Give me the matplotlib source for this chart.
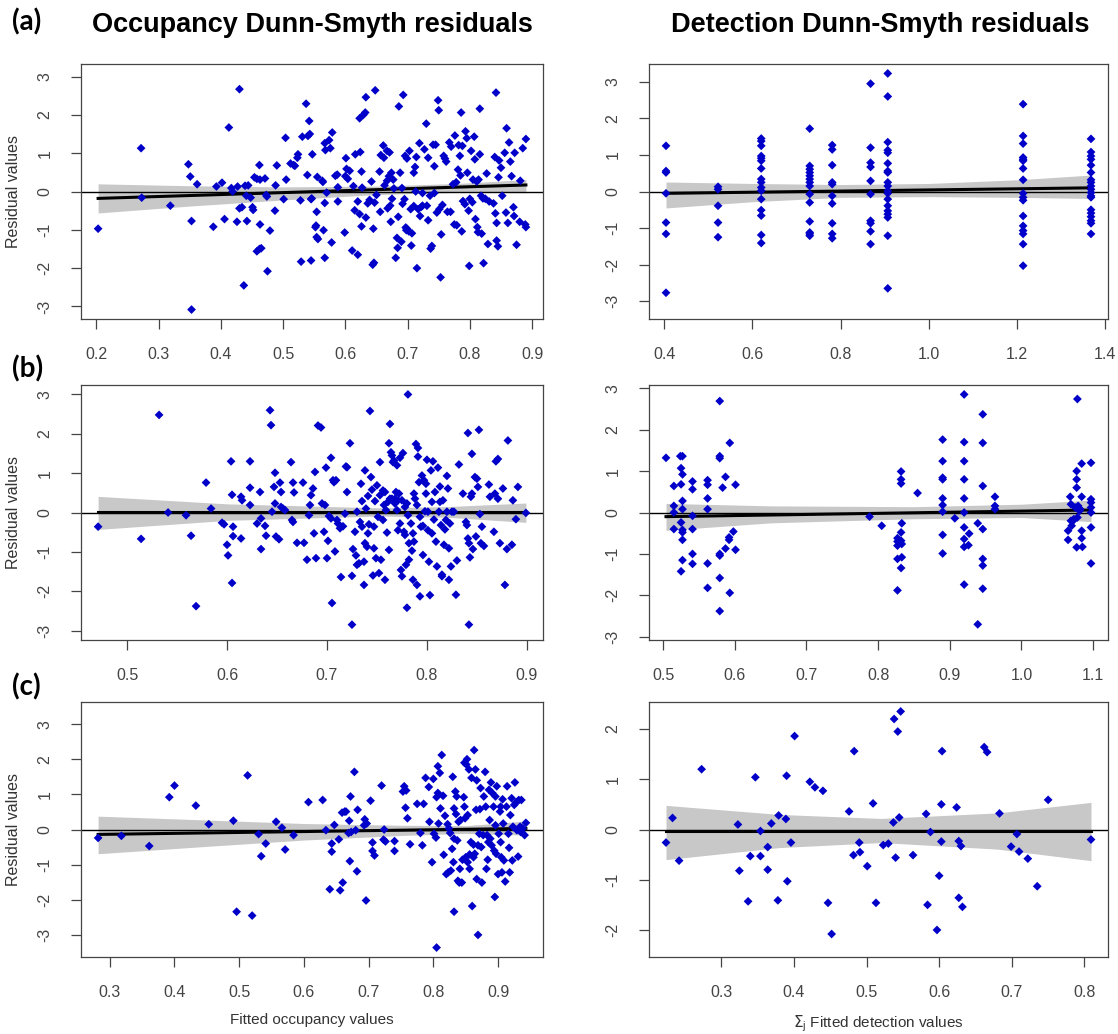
import numpy as np
import matplotlib.pyplot as plt

# ---------------- data ----------------
# (a) occupancy residuals
occ_a_x = [0.203, 0.272, 0.273, 0.319, 0.348, 0.351, 0.353, 0.353, 0.362, 0.388, 0.393, 0.402, 0.406, 0.413,
           0.417, 0.419, 0.426, 0.427, 0.430, 0.430, 0.434, 0.437, 0.439, 0.441, 0.442, 0.444, 0.448, 0.451,
           0.452, 0.454, 0.458, 0.462, 0.463, 0.458, 0.462, 0.465, 0.463, 0.471, 0.473, 0.474, 0.479, 0.475,
           0.487, 0.488, 0.490, 0.501, 0.504, 0.505, 0.512, 0.517, 0.519, 0.523, 0.524, 0.528, 0.529, 0.531,
           0.537, 0.539, 0.540, 0.542, 0.543, 0.545, 0.545, 0.546, 0.547, 0.552, 0.553, 0.554, 0.554, 0.555,
           0.556, 0.563, 0.564, 0.565, 0.567, 0.567, 0.567, 0.568, 0.570, 0.574, 0.576, 0.578, 0.579, 0.584,
           0.587, 0.588, 0.588, 0.599, 0.600, 0.601, 0.602, 0.604, 0.607, 0.611, 0.613, 0.615, 0.616, 0.620,
           0.620, 0.623, 0.623, 0.624, 0.626, 0.626, 0.627, 0.629, 0.632, 0.633, 0.633, 0.636, 0.639, 0.642,
           0.644, 0.645, 0.646, 0.648, 0.647, 0.650, 0.655, 0.656, 0.657, 0.661, 0.662, 0.663, 0.667, 0.667,
           0.668, 0.670, 0.671, 0.672, 0.673, 0.674, 0.675, 0.677, 0.678, 0.681, 0.683, 0.684, 0.685, 0.686,
           0.688, 0.690, 0.691, 0.692, 0.693, 0.695, 0.696, 0.697, 0.698, 0.699, 0.699, 0.702, 0.703, 0.705,
           0.706, 0.707, 0.710, 0.710, 0.712, 0.713, 0.714, 0.715, 0.717, 0.719, 0.720, 0.722, 0.724, 0.724,
           0.727, 0.730, 0.731, 0.733, 0.733, 0.736, 0.737, 0.739, 0.741, 0.743, 0.743, 0.745, 0.747, 0.749,
           0.750, 0.751, 0.753, 0.754, 0.756, 0.758, 0.760, 0.762, 0.764, 0.767, 0.769, 0.770, 0.773, 0.775,
           0.776, 0.778, 0.779, 0.781, 0.782, 0.784, 0.785, 0.786, 0.787, 0.788, 0.789, 0.792, 0.793, 0.795,
           0.796, 0.798, 0.799, 0.800, 0.802, 0.804, 0.805, 0.807, 0.808, 0.809, 0.811, 0.812, 0.813, 0.814,
           0.816, 0.816, 0.818, 0.819, 0.821, 0.822, 0.825, 0.827, 0.829, 0.831, 0.838, 0.840, 0.841, 0.842,
           0.843, 0.843, 0.845, 0.846, 0.847, 0.850, 0.852, 0.856, 0.858, 0.859, 0.861, 0.863, 0.865, 0.867,
           0.870, 0.871, 0.872, 0.875, 0.880, 0.881, 0.885, 0.889, 0.890, 0.890]
occ_a_y = [-0.97, 1.13, -0.16, -0.37, 0.71, 0.39, -0.77, -3.08, 0.19, -0.92, 0.13, 0.23, -0.72, 1.67,
           0.09, 0.00, -0.79, 0.13, 2.67, -0.44, -0.41, -2.45, 0.15, -0.11, -0.77, 0.16, -0.16, -0.41,
           -0.48, 0.37, 0.33, 0.69, 0.31, -1.56, -1.50, -1.48, -0.86, 0.34, -0.09, -0.13, -1.02, -2.08,
           -0.50, 0.16, 0.68, -0.20, 1.40, 0.31, 0.73, 0.69, 0.67, 0.88, 0.97, -0.23, -1.83, 1.43,
           2.29, 0.43, 1.45, 1.84, 1.50, -0.20, -1.80, -0.18, 0.97, -0.93, -0.89, -0.53, -1.19, 0.38,
           -1.24, 0.28, 0.25, -1.01, -1.73, 1.26, -0.30, 1.08, -0.03, 1.34, 1.13, -1.33, 1.54, 0.41,
           0.44, 0.11, -0.26, -1.07, 0.40, 0.87, 0.59, 0.33, 0.54, -1.54, 0.14, -0.49, 0.97, -0.26,
           -1.65, -0.59, 1.91, 1.03, -0.91, 0.52, 0.10, 2.00, 2.06, -0.68, 2.46, -0.31, -0.22, 0.26,
           -1.91, -0.97, -1.86, 2.64, -0.29, -0.09, 0.52, -0.53, 0.95, 1.20, 0.88, 0.16, 1.06, 0.28,
           -0.44, 0.40, 1.02, -0.37, -0.79, 0.49, -0.19, 0.31, 0.08, -1.73, -1.21, -1.47, -0.66, 2.22,
           0.49, -1.31, 0.09, -0.32, 2.52, -0.20, 0.93, -0.94, -1.01, 0.86, -0.97, -1.04, 1.06, -0.46,
           -1.41, -1.09, -0.38, 0.49, 0.64, 0.00, 0.90, -2.00, -0.46, 1.26, -0.64, -0.40, -0.04, -0.37,
           1.10, 1.77, -0.37, -0.75, 0.88, -0.11, -1.49, -1.42, 1.22, 0.66, -0.04, 1.22, -0.55, 2.38,
           2.12, -0.46, -2.24, -1.12, -0.35, 0.93, 0.86, 0.78, -0.53, 1.28, -0.53, 1.17, 0.19, -0.86,
           1.46, 0.24, -0.88, 0.57, 1.21, 0.93, 0.42, 2.06, -1.04, 1.19, -0.25, -0.33, 1.57, 1.39,
           0.49, -0.50, -1.94, -0.19, 1.06, -0.28, 0.31, 1.43, 0.84, -0.72, 0.26, -0.93, -1.06, 0.31,
           2.16, 0.97, -0.11, -1.10, -0.18, -1.87, -0.19, 0.47, -1.37, -0.26, -0.31, 0.90, -0.57, 2.58,
           -1.28, -0.82, -1.43, 0.37, 0.81, 0.62, -0.11, 1.01, -0.55, 1.65, -0.82, 1.28, 0.78, 0.40,
           -0.41, -0.64, 1.01, -1.39, -0.79, 0.28, 1.13, -0.86, 1.37, -0.93]

# (a) detection residuals: sites share a few fitted values
det_a_x = ([0.404] * 7 + [0.522] * 5 + [0.620] * 16 + [0.730] * 14 + [0.781] * 10 + [0.868] * 10
           + [0.907] * 19 + [1.214] * 17 + [1.368] * 19)
det_a_y = [1.25, 0.56, 0.52, -0.05, -0.85, -1.16, -2.77,
           0.13, 0.06, -0.39, -0.85, -1.25,
           1.45, 1.38, 1.25, 0.97, 0.91, 0.84, 0.63, 0.34, 0.25, 0.11, 0.02, -0.21, -0.51, -0.66, -1.19, -1.41,
           1.72, 0.70, 0.61, 0.52, 0.43, 0.34, 0.25, 0.15, -0.07, -0.30, -0.82, -1.12, -1.16, -1.21,
           1.27, 1.15, 0.72, 0.25, 0.20, -0.12, -0.33, -0.87, -1.16, -1.28,
           2.95, 1.20, 0.79, 0.67, 0.29, -0.07, -0.80, -0.87, -1.09, -1.44,
           3.23, 2.60, 1.35, 1.13, 1.06, 0.77, 0.56, 0.52, 0.25, 0.15, 0.02, -0.05, -0.21, -0.39, -0.53,
           -0.62, -0.71, -1.21, -2.65,
           2.39, 1.52, 1.31, 0.93, 0.88, 0.84, 0.63, 0.32, -0.05, -0.16, -0.24, -0.67, -0.94, -1.07, -1.16,
           -1.44, -2.03,
           1.44, 1.08, 0.97, 0.88, 0.72, 0.52, 0.32, 0.25, 0.15, 0.06, -0.03, -0.12, -0.16, -0.50, -0.59,
           -0.69, -0.80, -0.87, -1.16]

# (b) occupancy residuals
occ_b_x = [0.471, 0.514, 0.532, 0.541, 0.559, 0.564, 0.569, 0.579, 0.584, 0.595, 0.597, 0.600, 0.601, 0.604,
           0.605, 0.606, 0.606, 0.605, 0.614, 0.614, 0.615, 0.623, 0.623, 0.623, 0.630, 0.633, 0.634, 0.634,
           0.638, 0.639, 0.643, 0.644, 0.645, 0.647, 0.648, 0.648, 0.649, 0.652, 0.653, 0.654, 0.654, 0.656,
           0.658, 0.664, 0.665, 0.666, 0.666, 0.667, 0.670, 0.676, 0.677, 0.680, 0.682, 0.683, 0.684, 0.686,
           0.687, 0.688, 0.689, 0.691, 0.694, 0.695, 0.697, 0.698, 0.699, 0.700, 0.701, 0.702, 0.704, 0.704,
           0.705, 0.706, 0.707, 0.708, 0.709, 0.710, 0.711, 0.713, 0.714, 0.716, 0.718, 0.719, 0.720, 0.720,
           0.723, 0.725, 0.725, 0.726, 0.728, 0.729, 0.730, 0.730, 0.732, 0.733, 0.734, 0.735, 0.735, 0.737,
           0.737, 0.738, 0.738, 0.739, 0.740, 0.741, 0.741, 0.742, 0.743, 0.744, 0.745, 0.746, 0.747, 0.747,
           0.748, 0.749, 0.750, 0.751, 0.752, 0.753, 0.753, 0.754, 0.756, 0.756, 0.757, 0.758, 0.758, 0.759,
           0.760, 0.761, 0.762, 0.762, 0.763, 0.763, 0.764, 0.765, 0.765, 0.766, 0.767, 0.768, 0.768, 0.769,
           0.770, 0.770, 0.771, 0.771, 0.772, 0.773, 0.773, 0.774, 0.775, 0.775, 0.776, 0.777, 0.778, 0.778,
           0.779, 0.780, 0.780, 0.781, 0.781, 0.782, 0.782, 0.784, 0.785, 0.786, 0.786, 0.787, 0.787, 0.788,
           0.789, 0.790, 0.790, 0.791, 0.791, 0.792, 0.793, 0.793, 0.794, 0.795, 0.796, 0.796, 0.797, 0.798,
           0.799, 0.799, 0.800, 0.801, 0.801, 0.802, 0.803, 0.804, 0.805, 0.805, 0.806, 0.807, 0.808, 0.809,
           0.810, 0.811, 0.812, 0.813, 0.813, 0.814, 0.815, 0.815, 0.816, 0.817, 0.818, 0.819, 0.820, 0.820,
           0.821, 0.822, 0.822, 0.823, 0.824, 0.825, 0.827, 0.829, 0.830, 0.832, 0.836, 0.839, 0.840, 0.841,
           0.841, 0.842, 0.842, 0.843, 0.844, 0.845, 0.845, 0.846, 0.848, 0.849, 0.850, 0.851, 0.852, 0.853,
           0.854, 0.855, 0.857, 0.862, 0.863, 0.867, 0.868, 0.869, 0.871, 0.871, 0.873, 0.876, 0.878, 0.880,
           0.881, 0.885, 0.886, 0.889, 0.891, 0.899]
occ_b_y = [-0.36, -0.67, 2.48, 0.00, -0.07, -0.59, -2.38, 0.76, 0.10, -0.26, -0.30, -0.82, -1.09, 1.30,
           0.45, -0.36, -0.60, -1.79, 0.40, -0.66, 0.31, 1.30, 0.63, 0.19, -0.28, 0.52, -0.93, -0.15,
           -0.34, -0.59, 2.60, 2.22, 0.02, 0.65, 1.01, 0.23, -0.61, -0.68, 0.76, 0.14, 0.52, 0.10,
           0.06, 1.28, -0.19, 0.76, -0.24, 0.51, -0.77, 0.76, -0.77, -1.20, -0.07, 0.19, 0.44, 0.61,
           -0.53, 1.03, -1.16, 2.21, 2.16, 0.23, -0.49, 0.19, 1.14, -1.16, -0.72, -0.09, -0.15, 1.39,
           -2.30, 0.82, 0.77, -0.99, 0.82, -0.19, -0.28, -0.40, -1.64, -0.35, -0.03, 1.17, 1.15, 0.52,
           1.76, -1.61, -2.85, -0.93, -0.49, -1.09, 0.02, -1.33, -1.29, -0.24, 0.73, -0.36, 0.29, -1.25,
           -1.84, -0.78, 1.07, 0.10, -0.87, 0.42, -0.53, -0.30, 2.58, 0.90, 0.58, -1.60, -0.91, -0.36,
           0.29, -1.16, 0.69, -0.11, -1.54, 1.28, 0.44, -1.20, 0.56, -0.19, 0.19, -1.71, 0.52, 0.06,
           -0.51, 0.27, -0.95, 1.76, 0.35, 2.25, 1.53, 0.35, 1.45, 1.28, 1.32, 0.35, 0.23, 0.52,
           1.20, 0.06, 0.31, -0.45, 0.48, 1.39, -0.28, -1.46, 0.31, -1.62, 1.51, -0.49, -0.57, 0.14,
           -1.33, 0.23, -2.42, -0.07, 3.00, -0.78, -1.20, -0.28, -0.97, -0.53, -1.71, 0.48, -0.74, 0.35,
           1.74, -1.84, 0.19, 1.64, 1.42, 0.77, -0.11, -2.13, -0.36, 0.94, -1.08, -0.34, 0.82, 0.03,
           0.48, 0.73, 1.34, 0.02, -0.45, -1.25, -2.10, 1.07, -0.53, 0.27, 1.30, -0.18, 0.52, -0.74,
           -1.37, 1.14, 0.02, 0.66, 0.27, -0.32, -1.62, -1.58, 0.31, -0.82, -0.43, -0.19, 0.02, 0.93,
           0.61, -0.91, -1.71, -0.28, -1.37, 0.02, 0.02, -2.09, -1.22, 1.22, 0.48, -0.24, -0.32, -0.66,
           2.02, -0.78, -2.85, -1.14, 0.40, 0.48, 1.49, -0.93, 0.90, -0.61, 0.86, 0.65, 2.10, -0.04,
           -0.78, -0.36, -0.85, 0.71, 0.40, -0.49, 0.48, 1.30, 1.36, 0.35, -0.78, 0.61, -1.84, -0.93,
           1.83, -0.82, 0.31, -0.17, 0.65, -0.01]

# (b) detection residuals
det_b_x = [0.504, 0.515, 0.515, 0.515, 0.515, 0.524, 0.525, 0.525, 0.525, 0.525, 0.527, 0.527, 0.527, 0.527,
           0.527, 0.527, 0.527, 0.527, 0.541, 0.541, 0.541, 0.541, 0.541, 0.541, 0.562, 0.562, 0.562, 0.562,
           0.562, 0.562, 0.579, 0.579, 0.579, 0.579, 0.579, 0.579, 0.579, 0.583, 0.587, 0.587, 0.592, 0.592,
           0.593, 0.593, 0.598, 0.601, 0.601,
           0.788, 0.805, 0.827, 0.827, 0.827, 0.827, 0.827, 0.832, 0.832, 0.832, 0.832, 0.832, 0.832, 0.833,
           0.833, 0.833, 0.855, 0.890, 0.890, 0.890, 0.890, 0.890, 0.890, 0.890, 0.890, 0.890, 0.907, 0.920,
           0.920, 0.920, 0.920, 0.920, 0.920, 0.920, 0.920, 0.920, 0.920, 0.926, 0.927, 0.939, 0.939, 0.946,
           0.946, 0.946, 0.946, 0.946, 0.946, 0.946, 0.963, 0.963, 0.963,
           1.065, 1.065, 1.068, 1.069, 1.069, 1.070, 1.072, 1.073, 1.075, 1.077, 1.077, 1.077, 1.077, 1.078,
           1.078, 1.079, 1.081, 1.082, 1.084, 1.084, 1.084, 1.084, 1.085, 1.097, 1.097, 1.097, 1.097, 1.097,
           1.097, 1.097]
det_b_y = [1.32, 0.64, 0.16, 0.00, -0.40, 1.36, 1.07, 0.68, -0.24, -1.42, 1.36, 0.92, 0.28, 0.08,
           -0.42, -0.48, -0.66, -1.15, 0.75, 0.56, -0.08, -0.40, -1.00, -1.24, 0.78, 0.67, 0.34, 0.08,
           -1.23, -1.82, 2.69, 1.36, 1.31, -1.00, -1.04, -1.58, -2.38, 0.60, 0.86, -0.87, -0.60, -0.66,
           1.68, -1.94, -0.46, 0.67, -0.90,
           -0.10, -0.32, -0.62, -0.70, -0.80, -1.12, -1.88, 0.99, 0.80, 0.70, -0.48, -0.68, -1.34, -0.26,
           -0.76, -1.08, 0.47, 1.76, 1.24, 0.84, 0.80, 0.34, 0.18, 0.02, -0.54, -0.99, -0.14, 2.85,
           1.70, 1.24, 0.80, 0.34, 0.00, -0.36, -0.64, -0.83, -1.74, -0.79, -0.51, -0.26, -2.70, 2.37,
           1.68, 0.64, -0.40, -1.12, -1.28, -1.84, 0.38, 0.16, 0.08,
           -0.44, -0.66, 0.38, 0.20, -0.20, -0.32, -0.20, -0.16, 0.12, 1.00, 0.80, 0.60, -0.84, 2.74,
           -0.12, 0.16, 0.04, 0.08, 1.18, 0.38, -0.44, -0.62, -0.83, 1.20, 0.32, 0.24, 0.12, 0.00,
           -0.36, -1.23]

# (c) occupancy residuals
occ_c_x = [0.282, 0.318, 0.361, 0.392, 0.400, 0.433, 0.453, 0.491, 0.496, 0.513, 0.520, 0.530, 0.534, 0.541,
           0.557, 0.566, 0.571, 0.584, 0.607, 0.629, 0.634, 0.640, 0.643, 0.643, 0.647, 0.654, 0.656, 0.659,
           0.660, 0.663, 0.665, 0.669, 0.670, 0.671, 0.672, 0.673, 0.678, 0.680, 0.682, 0.683, 0.693, 0.694,
           0.696, 0.697, 0.703, 0.706, 0.706, 0.709, 0.720, 0.723, 0.724, 0.726, 0.740, 0.740, 0.753, 0.755,
           0.757, 0.758, 0.760, 0.764, 0.775, 0.780, 0.783, 0.785, 0.788, 0.793, 0.794, 0.798, 0.800, 0.801,
           0.804, 0.805, 0.805, 0.807, 0.807, 0.808, 0.810, 0.811, 0.813, 0.815, 0.816, 0.818, 0.820, 0.822,
           0.823, 0.824, 0.826, 0.827, 0.829, 0.830, 0.831, 0.832, 0.832, 0.832, 0.834, 0.835, 0.836, 0.837,
           0.838, 0.839, 0.840, 0.841, 0.842, 0.844, 0.845, 0.847, 0.848, 0.848, 0.849, 0.850, 0.851, 0.852,
           0.853, 0.853, 0.855, 0.856, 0.856, 0.858, 0.859, 0.860, 0.862, 0.862, 0.863, 0.864, 0.865, 0.866,
           0.867, 0.867, 0.869, 0.869, 0.871, 0.872, 0.873, 0.874, 0.875, 0.877, 0.878, 0.880, 0.881, 0.882,
           0.883, 0.884, 0.885, 0.886, 0.887, 0.888, 0.889, 0.890, 0.891, 0.893, 0.894, 0.895, 0.896, 0.896,
           0.897, 0.898, 0.900, 0.901, 0.903, 0.904, 0.904, 0.905, 0.906, 0.907, 0.908, 0.909, 0.911, 0.913,
           0.914, 0.916, 0.917, 0.918, 0.919, 0.921, 0.922, 0.923, 0.925, 0.926, 0.928, 0.929, 0.931, 0.932,
           0.934, 0.935, 0.936, 0.938, 0.941, 0.943]
occ_c_y = [-0.24, -0.18, -0.47, 0.92, 1.25, 0.68, 0.15, 0.25, -2.34, 1.54, -2.45, -0.13, -0.76, -0.40,
           0.22, 0.05, -0.57, -0.16, 0.78, 0.84, -0.02, -1.70, -0.40, -0.63, 0.13, -0.28, -1.73, 0.48,
           -1.51, 0.51, 0.51, -0.10, 0.25, -0.90, 0.94, -0.07, 1.64, -0.02, -1.19, 0.56, 0.12, 0.29,
           -2.02, 0.17, 0.82, -0.37, -0.61, -0.74, 1.25, -0.29, 0.00, -0.34, -0.33, -0.61, 1.08, 1.23,
           0.62, 1.11, 0.32, -0.42, 0.73, -0.10, -0.45, 0.73, 1.47, 1.21, 0.22, -0.93, 1.44, -0.12,
           -0.23, 0.92, -3.36, 1.80, 1.04, 0.17, 1.61, 0.60, 2.12, 0.96, -0.72, 0.39, -1.27, 0.15,
           -1.22, 0.03, -0.10, -1.17, -0.55, 1.50, -0.93, -2.34, 0.60, -0.26, 1.08, 0.44, 0.94, -0.31,
           -1.46, 0.22, -1.51, -1.12, 0.27, -1.51, -0.86, 0.92, 1.90, 0.65, 0.32, -0.79, 1.85, 2.00,
           -0.93, 0.41, 1.71, -1.12, -0.71, -0.36, 1.47, -2.18, -0.43, -0.79, 2.26, -0.69, 1.71, 0.56,
           -1.41, 1.40, -0.45, -3.00, -0.12, 0.58, 1.18, -0.50, -1.51, -0.16, 0.94, 1.64, 0.65, -1.12,
           -0.16, -0.86, -0.36, 1.13, 0.27, -0.26, 1.34, -0.45, 1.04, 0.65, -0.60, -1.92, 0.12, 0.94,
           -0.69, 1.23, -1.27, -0.12, 0.51, -0.36, 0.65, -0.79, -1.22, 0.86, 0.17, -0.88, -1.48, 0.65,
           1.23, -0.12, -0.52, -1.22, 0.41, 0.89, -0.88, 0.08, 0.70, 1.34, 0.77, -0.02, -0.77, 0.84,
           0.08, -0.07, 0.84, 0.03, -0.16, 0.19]

# (c) detection residuals
det_c_x = [0.224, 0.233, 0.242, 0.273, 0.323, 0.325, 0.337, 0.340, 0.347, 0.354, 0.354, 0.364, 0.364, 0.369,
           0.378, 0.379, 0.389, 0.390, 0.391, 0.396, 0.401, 0.422, 0.429, 0.440, 0.447, 0.452, 0.476, 0.482,
           0.483, 0.490, 0.491, 0.501, 0.509, 0.513, 0.523, 0.530, 0.537, 0.538, 0.540, 0.543, 0.545, 0.547,
           0.564, 0.582, 0.584, 0.588, 0.597, 0.600, 0.603, 0.603, 0.604, 0.624, 0.627, 0.627, 0.630, 0.632,
           0.662, 0.666, 0.683, 0.699, 0.707, 0.710, 0.722, 0.735, 0.750, 0.809]
det_c_y = [-0.26, 0.23, -0.62, 1.20, 0.10, -0.82, -1.43, -0.53, 1.04, -0.03, -0.53, -0.35, -0.80, 0.12,
           -1.41, 0.28, 0.21, 1.07, -1.03, -0.26, 1.86, 0.95, 0.84, 0.77, -1.46, -2.08, 0.36, -0.51,
           1.56, -0.26, -0.45, -0.73, 0.52, -1.46, -0.31, -0.28, 0.14, 2.20, -0.56, 1.95, 0.24, 2.35,
           -0.51, 0.31, -1.50, -0.05, -2.00, -0.92, 0.50, -0.24, 1.56, 0.44, -1.36, -0.23, -0.33, -1.54,
           1.64, 1.54, 0.32, -0.34, -0.09, -0.44, -0.58, -1.13, 0.59, -0.20]

# fitted trend lines and 95% bands
fit_a_occ = dict(x=[0.203, 0.89], y=[-0.18, 0.17],
                 bx=[0.203, 0.35, 0.50, 0.65, 0.78, 0.89],
                 lo=[-0.56, -0.38, -0.22, -0.08, -0.02, -0.03],
                 hi=[0.20, 0.15, 0.12, 0.14, 0.21, 0.31])
fit_a_det = dict(x=[0.404, 1.368], y=[-0.05, 0.10],
                 bx=[0.404, 0.60, 0.80, 1.00, 1.20, 1.368],
                 lo=[-0.45, -0.28, -0.16, -0.14, -0.16, -0.19],
                 hi=[0.26, 0.22, 0.19, 0.22, 0.32, 0.45])
fit_b_occ = dict(x=[0.471, 0.899], y=[0.02, 0.02],
                 bx=[0.471, 0.60, 0.75, 0.82, 0.899],
                 lo=[-0.43, -0.20, -0.09, -0.12, -0.25],
                 hi=[0.41, 0.22, 0.12, 0.15, 0.24])
fit_b_det = dict(x=[0.504, 1.097], y=[-0.10, 0.06],
                 bx=[0.504, 0.65, 0.85, 1.00, 1.097],
                 lo=[-0.43, -0.25, -0.15, -0.12, -0.22],
                 hi=[0.22, 0.16, 0.14, 0.20, 0.30])
fit_c_occ = dict(x=[0.282, 0.943], y=[-0.14, 0.03],
                 bx=[0.282, 0.45, 0.60, 0.75, 0.85, 0.943],
                 lo=[-0.69, -0.48, -0.30, -0.17, -0.11, -0.16],
                 hi=[0.38, 0.27, 0.17, 0.12, 0.11, 0.24])
fit_c_det = dict(x=[0.224, 0.809], y=[-0.03, -0.03],
                 bx=[0.224, 0.38, 0.52, 0.68, 0.809],
                 lo=[-0.60, -0.36, -0.26, -0.39, -0.62],
                 hi=[0.48, 0.30, 0.22, 0.33, 0.54])

xt_a_occ = [0.2, 0.3, 0.4, 0.5, 0.6, 0.7, 0.8, 0.9]
xt_a_det = [0.4, 0.6, 0.8, 1.0, 1.2, 1.4]
xt_b_occ = [0.5, 0.6, 0.7, 0.8, 0.9]
xt_b_det = [0.5, 0.6, 0.7, 0.8, 0.9, 1.0, 1.1]
xt_c_occ = [0.3, 0.4, 0.5, 0.6, 0.7, 0.8, 0.9]
xt_c_det = [0.3, 0.4, 0.5, 0.6, 0.7, 0.8]

plt.rcParams['font.family'] = ['Liberation Sans', 'DejaVu Sans']

TXT = '#333333'


def panel(ax, x, y, fit, xticks, ylabel=None, xlabel=None):
    x = np.asarray(x)
    y = np.asarray(y)
    ax.fill_between(fit['bx'], fit['lo'], fit['hi'], color='#c8c8c8', lw=0, zorder=1)
    ax.plot(fit['x'], fit['y'], color='black', lw=2.2, zorder=2)
    ax.axhline(0, color='black', lw=1, zorder=2)
    ax.scatter(x, y, marker='D', s=20, color='#0000c8', edgecolors='none', zorder=3)

    # R style limits: 4% padding, y symmetric around zero
    rx = x.max() - x.min()
    ax.set_xlim(x.min() - 0.04 * rx, x.max() + 0.04 * rx)
    m = np.abs(y).max() * 1.08
    ax.set_ylim(-m, m)
    ax.set_xticks(xticks)
    ax.set_xticklabels(['%.1f' % t for t in xticks])
    top = int(np.floor(m))
    yt = list(range(-top, top + 1))
    ax.set_yticks(yt)
    ax.set_yticklabels([str(t) for t in yt], rotation=90, va='center')
    ax.tick_params(direction='out', length=7.5, width=0.9, pad=13, labelsize=11.5,
                   colors='#444444', labelcolor='#444444')
    for s in ax.spines.values():
        s.set_color('#444444')
        s.set_linewidth(0.9)
    if ylabel:
        ax.set_ylabel(ylabel, fontsize=11.5, color=TXT, labelpad=12)
    if xlabel:
        ax.set_xlabel(xlabel, fontsize=11, color=TXT, labelpad=9)


fig = plt.figure(figsize=(11.18, 10.34), dpi=100)
W, H = 1118.0, 1034.0
cols = [(81, 543), (649, 1108)]
rows = [(64, 319), (385, 640), (702, 957)]


def make_ax(r, c):
    x0, x1 = cols[c]
    y0, y1 = rows[r]
    return fig.add_axes([x0 / W, 1 - y1 / H, (x1 - x0) / W, (y1 - y0) / H])


panel(make_ax(0, 0), occ_a_x, occ_a_y, fit_a_occ, xt_a_occ, ylabel='Residual values')
panel(make_ax(0, 1), det_a_x, det_a_y, fit_a_det, xt_a_det)
panel(make_ax(1, 0), occ_b_x, occ_b_y, fit_b_occ, xt_b_occ, ylabel='Residual values')
panel(make_ax(1, 1), det_b_x, det_b_y, fit_b_det, xt_b_det)
panel(make_ax(2, 0), occ_c_x, occ_c_y, fit_c_occ, xt_c_occ, ylabel='Residual values',
      xlabel='Fitted occupancy values')
panel(make_ax(2, 1), det_c_x, det_c_y, fit_c_det, xt_c_det,
      xlabel=r'$\Sigma_\mathregular{j}$ Fitted detection values')

fig.text(312 / W, 1 - 25 / H, 'Occupancy Dunn-Smyth residuals', ha='center', va='center',
         fontsize=19.5, fontweight='bold')
fig.text(880 / W, 1 - 25 / H, 'Detection Dunn-Smyth residuals', ha='center', va='center',
         fontsize=19.5, fontweight='bold')
for lab, yy in [('(a)', 22), ('(b)', 369), ('(c)', 687)]:
    fig.text(12 / W, 1 - yy / H, lab, ha='left', va='center', fontsize=20, fontweight='bold',
             family=['Lato', 'DejaVu Sans'])

fig.savefig('out.png', dpi=100)
